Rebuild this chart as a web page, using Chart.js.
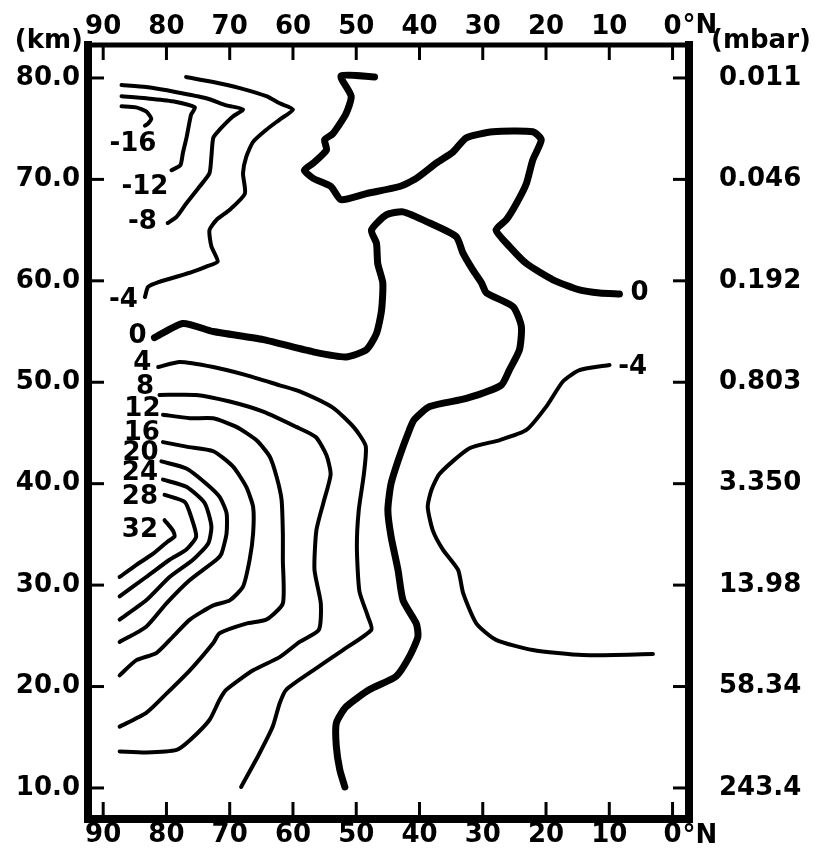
<!DOCTYPE html>
<html>
<head>
<meta charset="utf-8">
<script src="https://cdn.jsdelivr.net/npm/chart.js@4.4.1/dist/chart.umd.min.js"></script>
<style>
  html, body { margin: 0; padding: 0; background: #fff; }
  #wrap { position: relative; width: 831px; height: 856px; }
</style>
</head>
<body>
<div id="wrap"><canvas id="contourChart"></canvas></div>
<script>
// Axis ticks
const latTicks = [90, 80, 70, 60, 50, 40, 30, 20, 10, 0];
const altTicks = [80, 70, 60, 50, 40, 30, 20, 10];
const altLabels = ['80.0', '70.0', '60.0', '50.0', '40.0', '30.0', '20.0', '10.0'];
const mbarLabels = ['0.011', '0.046', '0.192', '0.803', '3.350', '13.98', '58.34', '243.4'];

// Contour lines: latitude (deg N) / altitude (km) along each line
const m16Lat = [87.1, 84.8, 83.2, 82.4, 82.9, 83.4];
const m16Alt = [77.2, 77.1, 76.7, 76.0, 75.5, 75.3];

const m12Lat = [87.1, 83.2, 79.0, 75.5, 76.1, 76.8, 77.4, 77.8, 79.2];
const m12Alt = [78.2, 78.0, 77.7, 77.1, 76.4, 74.2, 72.6, 71.4, 70.9];

const m8Lat = [87.1, 83.2, 78.4, 73.7, 70.5, 67.9, 69.5, 71.6, 72.6, 72.9, 73.2, 74.75, 76.9, 78.4, 79.8];
const m8Alt = [79.3, 79.1, 78.6, 78.0, 77.3, 76.9, 76.2, 74.9, 74.1, 72.2, 70.6, 69.3, 67.6, 66.3, 65.7];

const m4Lat = [76.9, 72.6, 68.4, 64.2, 62.1, 60.0, 62.1, 64.2, 66.3, 67.4, 67.9, 67.6, 70.0, 72.1, 73.2, 72.9, 71.9, 73.7, 75.8, 78.4, 81.1, 82.9, 83.4];
const m4Alt = [80.1, 79.6, 79.0, 78.2, 77.5, 76.9, 75.9, 74.9, 73.7, 72.2, 70.6, 68.6, 67.0, 66.0, 65.0, 63.4, 61.9, 61.4, 60.9, 60.4, 59.9, 59.4, 58.4];

const zeroTopLat = [47.1, 52.4, 50.8, 51.6, 53.7, 55.0, 54.7, 56.8, 58.2, 56.8, 54.0, 52.4, 48.4, 43.15, 40.5, 37.35, 34.7, 32.6, 28.4, 22.1, 20.75, 22.1, 23.1, 24.7, 26.3, 27.9, 25.8, 23.1, 18.9, 14.7, 11.5, 8.4];
const zeroTopAlt = [80.1, 80.2, 78.2, 76.5, 74.5, 73.9, 72.9, 71.6, 70.9, 70.1, 69.3, 68.0, 68.6, 69.3, 70.1, 71.6, 72.7, 74.1, 74.7, 74.7, 73.9, 71.9, 69.6, 67.6, 66.0, 65.0, 63.4, 61.7, 60.1, 59.1, 58.8, 58.7];

const zeroMainLat = [81.9, 77.4, 72.6, 64.7, 56.8, 51.6, 48.4, 46.8, 46.0, 45.8, 46.6, 46.8, 47.6, 45.25, 42.6, 38.4, 34.2, 33.1, 31.6, 30.2, 29.4, 25.2, 23.9, 24.2, 25.8, 27.1, 32.6, 38.4, 40.85, 41.6, 43.15, 44.5, 45.0, 44.5, 43.4, 42.6, 40.5, 40.25, 41.6, 43.7, 47.9, 51.6, 53.15, 53.15, 52.6, 51.8];
const zeroMainAlt = [54.4, 55.8, 55.0, 54.2, 53.0, 52.5, 53.2, 54.8, 57.1, 59.8, 61.7, 63.7, 65.0, 66.5, 66.8, 65.7, 64.35, 62.7, 61.1, 59.8, 58.8, 57.45, 55.5, 53.2, 51.2, 49.7, 48.4, 47.6, 46.3, 45.3, 42.7, 40.0, 37.4, 34.8, 31.5, 28.5, 26.2, 24.9, 22.95, 21.0, 19.7, 18.0, 16.4, 14.1, 11.8, 10.1];

const m4EqLat = [9.96, 14.7, 17.3, 19.96, 23.1, 27.3, 32.1, 36.8, 38.1, 38.7, 37.9, 36.3, 33.9, 33.1, 31.0, 27.9, 22.1, 14.2, 3.1];
const m4EqAlt = [51.7, 51.2, 50.1, 47.6, 45.3, 44.3, 43.5, 41.0, 39.4, 37.7, 35.4, 33.5, 31.5, 29.2, 26.2, 24.6, 23.6, 23.1, 23.2];

const p4Lat = [81.3, 77.9, 72.6, 67.4, 62.1, 58.95, 53.7, 50.3, 48.5, 48.8, 49.6, 49.9, 49.5, 48.15, 47.6, 52.1, 56.8, 61.05, 62.1, 63.2, 65.3, 68.2];
const p4Alt = [51.5, 52.0, 51.5, 50.7, 49.7, 49.1, 47.5, 45.5, 43.7, 40.9, 37.4, 33.8, 29.4, 26.9, 25.6, 23.6, 21.6, 19.7, 18.35, 16.05, 13.4, 10.1];

const p8Lat = [81.1, 75.3, 70.0, 64.7, 59.5, 56.4, 54.7, 54.05, 55.2, 56.3, 56.6, 55.6, 55.9, 58.95, 62.1, 66.3, 70.5, 71.6, 73.2, 76.3, 78.4, 83.2, 87.4];
const p8Alt = [48.75, 48.75, 48.1, 47.1, 45.6, 44.6, 42.8, 40.9, 38.1, 35.4, 31.5, 28.2, 25.6, 24.4, 22.9, 21.6, 19.7, 18.7, 16.7, 14.7, 13.75, 13.5, 13.6];

const p12Lat = [80.55, 76.3, 72.6, 68.95, 65.8, 63.7, 62.6, 61.8, 61.6, 61.6, 61.6, 64.2, 67.4, 71.6, 72.6, 76.3, 80.0, 83.2, 87.4];
const p12Alt = [46.8, 46.45, 46.45, 45.6, 44.3, 42.7, 40.7, 38.4, 35.1, 32.5, 28.2, 26.6, 26.2, 25.25, 24.3, 21.6, 19.3, 17.4, 16.05];

const p16Lat = [80.55, 76.85, 72.6, 69.5, 67.4, 66.3, 66.3, 66.85, 67.9, 70.0, 72.6, 76.3, 79.0, 81.6, 84.75, 87.4];
const p16Alt = [44.1, 43.65, 43.2, 41.7, 39.7, 37.7, 35.1, 32.5, 29.85, 28.5, 28.0, 26.6, 24.9, 23.3, 22.6, 21.1];

const p20Lat = [80.8, 76.85, 73.7, 71.6, 70.5, 70.5, 71.3, 72.1, 76.3, 80.0, 83.2, 87.4];
const p20Alt = [42.2, 41.5, 40.0, 38.7, 37.1, 35.1, 33.1, 32.5, 30.5, 28.2, 25.9, 24.4];

const p24Lat = [80.55, 76.85, 73.96, 72.9, 73.4, 75.8, 79.5, 83.2, 87.4];
const p24Alt = [40.4, 39.7, 38.1, 35.8, 34.1, 32.5, 30.8, 28.5, 26.6];

const p28Lat = [80.3, 77.1, 76.1, 75.3, 76.85, 79.5, 83.2, 87.4];
const p28Alt = [38.9, 38.2, 36.75, 34.8, 33.5, 32.5, 30.8, 28.9];

const p32Lat = [80.3, 79.0, 78.7, 79.8, 82.1, 84.75, 87.4];
const p32Alt = [36.4, 35.4, 34.8, 34.3, 33.1, 32.0, 30.8];

// Contour value labels
const labelText = ['-16', '-12', '-8', '-4', '0', '4', '8', '12', '16', '20', '24', '28', '32', '0', '-4'];
const labelLat = [85.3, 83.4, 83.8, 86.8, 84.55, 83.8, 83.4, 83.8, 83.9, 84.1, 84.2, 84.2, 84.2, 5.2, 6.3];
const labelAlt = [73.5, 69.25, 65.8, 58.1, 54.5, 51.9, 49.5, 47.3, 45.0, 43.0, 41.05, 38.7, 35.4, 58.8, 51.5];

const contours = [
  [-16, m16Lat, m16Alt], [-12, m12Lat, m12Alt], [-8, m8Lat, m8Alt], [-4, m4Lat, m4Alt],
  [0, zeroTopLat, zeroTopAlt], [0, zeroMainLat, zeroMainAlt], [-4, m4EqLat, m4EqAlt],
  [4, p4Lat, p4Alt], [8, p8Lat, p8Alt], [12, p12Lat, p12Alt], [16, p16Lat, p16Alt],
  [20, p20Lat, p20Alt], [24, p24Lat, p24Alt], [28, p28Lat, p28Alt], [32, p32Lat, p32Alt]
];

const FONT = 'DejaVu Sans';
const axisFont = { family: FONT, size: 26, weight: 'bold' };

const datasets = contours.map(([level, lat, alt]) => ({
  label: String(level),
  data: lat.map((v, i) => ({ x: v, y: alt[i] })),
  showLine: true,
  borderColor: '#000',
  borderWidth: level === 0 ? 7 : 4,
  pointRadius: 0,
  tension: 0.2,
  borderCapStyle: 'round',
  borderJoinStyle: 'round',
  fill: false
}));

// Frame, inward ticks, unit titles and contour labels
const framePlugin = {
  id: 'frame',
  afterDatasetsDraw(chart) {
    const { ctx, chartArea: a, scales } = chart;
    const seg = (x1, y1, x2, y2, w) => {
      ctx.lineWidth = w;
      ctx.beginPath(); ctx.moveTo(x1, y1); ctx.lineTo(x2, y2); ctx.stroke();
    };
    ctx.save();
    ctx.strokeStyle = '#000';
    ctx.fillStyle = '#000';
    ctx.lineCap = 'butt';
    latTicks.forEach(v => {
      const px = scales.x.getPixelForValue(v);
      seg(px, a.top, px, a.top + 15, 3);
      seg(px, a.bottom, px, a.bottom - 17, 3);
    });
    altTicks.forEach(v => {
      const py = scales.y.getPixelForValue(v);
      seg(a.left, py, a.left + 16, py, 3);
      seg(a.right, py, a.right - 16, py, 3);
    });
    ctx.lineCap = 'square';
    seg(a.left, a.top, a.right, a.top, 5);
    seg(a.left, a.bottom, a.right, a.bottom, 8);
    seg(a.left, a.top, a.left, a.bottom, 8);
    seg(a.right, a.top, a.right, a.bottom, 8);

    ctx.font = `bold 26px "${FONT}"`;
    ctx.textBaseline = 'middle';
    // degree-north suffix after the 0 tick labels
    const x0 = scales.x.getPixelForValue(0) + ctx.measureText('0').width / 2 + 1;
    ctx.textAlign = 'left';
    ctx.fillText('°N', x0, a.top - 19);
    ctx.fillText('°N', x0, a.bottom + 17);
    // unit titles
    ctx.textAlign = 'right';
    ctx.fillText('(km)', a.left - 5, a.top - 4);
    ctx.textAlign = 'left';
    ctx.fillText('(mbar)', a.right + 22, a.top - 4);
    // contour labels
    ctx.textAlign = 'center';
    labelText.forEach((t, i) => {
      ctx.fillText(t, scales.x.getPixelForValue(labelLat[i]), scales.y.getPixelForValue(labelAlt[i]));
    });
    ctx.restore();
  }
};

const latAxis = (position, height, padding) => ({
  type: 'linear', position, min: -2.6, max: 92.4, reverse: true,
  afterBuildTicks: s => { s.ticks = latTicks.map(v => ({ value: v })); },
  afterFit: s => { s.height = height; s.paddingLeft = 0; s.paddingRight = 0; },
  grid: { display: false, drawTicks: false }, border: { display: false },
  ticks: { font: axisFont, color: '#000', padding, maxRotation: 0, autoSkip: false, callback: v => String(v) }
});

const altAxis = (position, width, padding, labels) => ({
  type: 'linear', position, min: 6.94, max: 83.25,
  afterBuildTicks: s => { s.ticks = altTicks.map(v => ({ value: v })); },
  afterFit: s => { s.width = width; s.paddingTop = 0; s.paddingBottom = 0; },
  grid: { display: false, drawTicks: false }, border: { display: false },
  ticks: { font: axisFont, color: '#000', padding, autoSkip: false, callback: v => labels[altTicks.indexOf(v)] }
});

new Chart(document.getElementById('contourChart'), {
  type: 'scatter',
  data: { datasets },
  options: {
    responsive: true,
    maintainAspectRatio: false,
    animation: false,
    layout: { padding: 0 },
    plugins: { legend: { display: false }, tooltip: { enabled: false } },
    scales: {
      x: latAxis('bottom', 37, 1),
      xTop: latAxis('top', 45, 2),
      y: altAxis('left', 88, 8, altLabels),
      y2: altAxis('right', 142, 30, mbarLabels)
    }
  },
  plugins: [framePlugin]
});
</script>
</body>
</html>
